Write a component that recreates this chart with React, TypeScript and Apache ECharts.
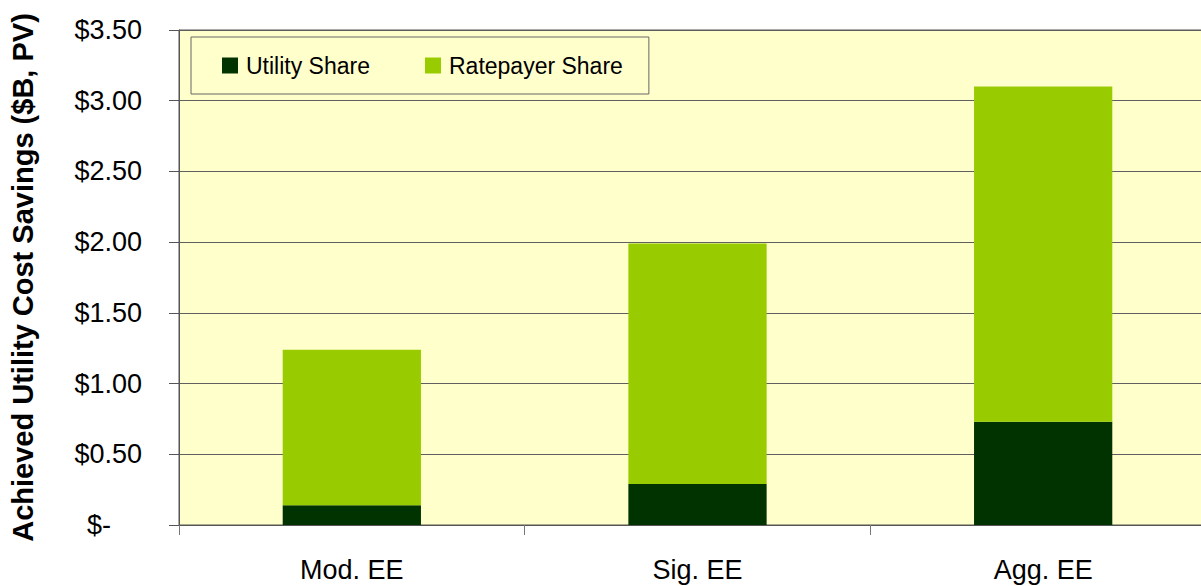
import React, { useEffect, useRef } from "react";
import * as echarts from "echarts";

const categories = ["Mod. EE", "Sig. EE", "Agg. EE"];
const utilityShare = [0.14, 0.29, 0.73];
const ratepayerShare = [1.10, 1.70, 2.37];
const yTicks = { min: 0, max: 3.5, interval: 0.5 };
const seriesNames = ["Utility Share", "Ratepayer Share"];
const colors = ["#003300", "#99CC00"];
const yAxisTitle = "Achieved Utility Cost Savings ($B, PV)";

export default function App() {
  const ref = useRef<HTMLDivElement>(null);
  useEffect(() => {
    if (!ref.current) return;
    const chart = echarts.init(ref.current, undefined, { renderer: "svg" });
    const font = "'Liberation Sans', Arial, sans-serif";
    chart.setOption({
      animation: false,
      textStyle: { fontFamily: font },
      legend: {
        data: seriesNames,
        left: 191,
        top: 37,
        orient: "horizontal",
        itemWidth: 16,
        itemHeight: 16,
        itemGap: 55,
        icon: "rect",
        padding: [17, 26, 17, 31],
        backgroundColor: "#FFFFCC",
        borderColor: "#666666",
        borderWidth: 1,
        textStyle: { fontSize: 23, color: "#000", fontFamily: font, padding: [0, 0, 0, 3], lineHeight: 22 },
      },
      grid: {
        left: 175,
        top: 30,
        width: 1041,
        height: 495,
        show: true,
        backgroundColor: "#FFFFCC",
        borderColor: "#555",
        borderWidth: 1,
      },
      xAxis: {
        type: "category",
        data: categories,
        axisLine: { lineStyle: { color: "#555", width: 1 } },
        axisTick: { show: true, length: 10, lineStyle: { color: "#777" }, alignWithLabel: false },
        axisLabel: { fontSize: 27, color: "#000", margin: 31, fontFamily: font },
      },
      yAxis: {
        type: "value",
        min: yTicks.min,
        max: yTicks.max,
        interval: yTicks.interval,
        name: yAxisTitle,
        nameLocation: "middle",
        nameGap: 142,
        nameRotate: 90,
        nameTextStyle: { fontSize: 29, fontWeight: "bold", color: "#000", fontFamily: font },
        axisLine: { show: true, lineStyle: { color: "#555" } },
        axisTick: { show: true, length: 10, inside: false, lineStyle: { color: "#555" } },
        splitLine: { show: true, lineStyle: { color: "#5f5f5f", width: 1 } },
        axisLabel: {
          fontSize: 27,
          color: "#000",
          margin: 37,
          fontFamily: font,
          formatter: (v: number) => (v === 0 ? "{z|$-}" : "$" + v.toFixed(2)),
          rich: { z: { fontSize: 27, color: "#000", fontFamily: font, padding: [0, 31, 0, 0] } },
        },
      },
      series: [
        {
          name: seriesNames[0],
          type: "bar",
          stack: "total",
          data: utilityShare,
          barWidth: "40%",
          itemStyle: { color: colors[0] },
        },
        {
          name: seriesNames[1],
          type: "bar",
          stack: "total",
          data: ratepayerShare,
          barWidth: "40%",
          itemStyle: { color: colors[1] },
        },
      ],
    });
    return () => chart.dispose();
  }, []);
  return (
    <div
      ref={ref}
      style={{ position: "fixed", left: 0, top: 0, width: 1230, height: 586, background: "#fff" }}
    />
  );
}
